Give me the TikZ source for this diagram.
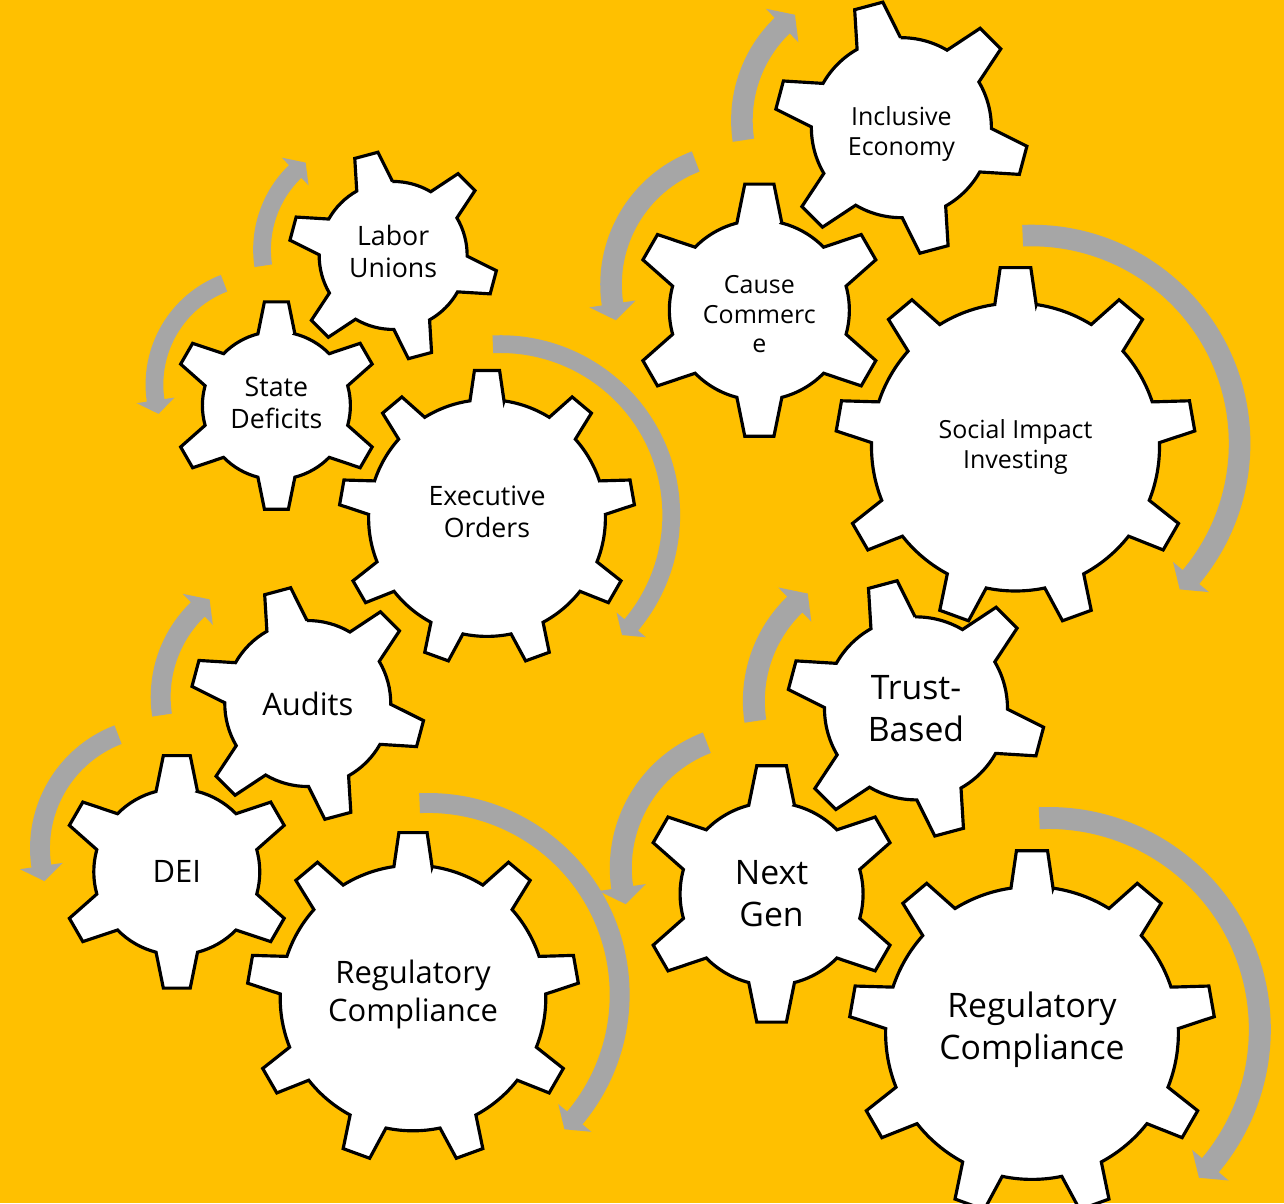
\documentclass[tikz,border=0pt]{standalone}
\usepackage{fontspec}
\setmainfont{Open Sans}
\definecolor{bgyellow}{HTML}{FFC000}
\definecolor{arrowgray}{HTML}{A6A6A6}

% gear: x, y, tip radius, body radius, teeth, first tooth angle, tip half width, base half width
\newcommand{\drawgear}[8]{%
  \pgfmathsetmacro\gstep{360/#5}%
  \pgfmathsetmacro\gtip{asin(#7/#3)}%
  \pgfmathsetmacro\gbase{asin(#8/#4)}%
  \pgfmathtruncatemacro\glast{#5-1}%
  \draw[gear] ({#1+#4*cos(#6-\gbase)},{#2+#4*sin(#6-\gbase)})
    \foreach \k [evaluate=\k as \a using #6+\k*\gstep,
                 evaluate=\k as \b using #6+\k*\gstep+\gbase,
                 evaluate=\k as \c using #6+(\k+1)*\gstep-\gbase] in {0,...,\glast} {
      -- ({#1+#3*cos(\a-\gtip)},{#2+#3*sin(\a-\gtip)})
      -- ({#1+#3*cos(\a+\gtip)},{#2+#3*sin(\a+\gtip)})
      -- ({#1+#4*cos(\b)},{#2+#4*sin(\b)})
      arc[start angle=\b, end angle=\c, radius=#4]
    } -- cycle;
}

% curved arrow: x, y, radius, start angle, end angle, turn (1 ccw, -1 cw)
\newcommand{\turnarrow}[6]{%
  \pgfmathsetmacro\rout{#3+0.06}%
  \pgfmathsetmacro\rin{#3-0.06}%
  \pgfmathsetmacro\rwo{#3+0.13}%
  \pgfmathsetmacro\rwi{#3-0.13}%
  \pgfmathsetmacro\atip{#5+#6*0.093/#3*180/pi}%
  \fill[arrowband] ({#1+\rout*cos(#4)},{#2+\rout*sin(#4)})
    arc[start angle=#4, end angle=#5, radius=\rout]
    -- ({#1+\rwo*cos(#5)},{#2+\rwo*sin(#5)})
    -- ({#1+#3*cos(\atip)},{#2+#3*sin(\atip)})
    -- ({#1+\rwi*cos(#5)},{#2+\rwi*sin(#5)})
    -- ({#1+\rin*cos(#5)},{#2+\rin*sin(#5)})
    arc[start angle=#5, end angle=#4, radius=\rin] -- cycle;
}

% one set of three gears, drawn around the big gear at (0,0)
\newcommand{\gearset}{%
  \turnarrow{0.09}{0.02}{1.155}{92.5}{-40}{-1}
  \turnarrow{-1.514}{0.902}{0.733}{111}{188.4}{1}
  \turnarrow{-0.787}{1.814}{0.733}{188.6}{134}{-1}
  \drawgear{0}{0}{1}{0.8}{9}{90}{0.085}{0.115}
  \drawgear{-1.423}{0.76}{0.705}{0.5}{6}{90}{0.081}{0.125}
  \drawgear{-0.634}{1.774}{0.705}{0.5}{6}{105}{0.081}{0.125}
}

\begin{document}
\begin{tikzpicture}[line join=miter,
    gear/.style={draw=black, fill=white, line width=0.9pt},
    arrowband/.style={fill=arrowgray},
    lbl/.style={align=center, inner sep=0pt, text=black}]
  \useasboundingbox (0,0) rectangle (12.84,-12.03);
  \fill[bgyellow] (0,0) rectangle (12.84,-12.03);
  \clip (0,0) rectangle (12.84,-12.03);

  % top left
  \begin{scope}[shift={(4.87,-5.18)}, scale=1.48, font=\fontsize{7.6}{9.1}\selectfont]
    \gearset
    \node[lbl, yshift=0.6mm] (exec) at (0,0) {Executive\\Orders};
    \node[lbl, yshift=0.3mm] (deficits) at (-1.423,0.76) {State\\Deficits};
    \node[lbl, yshift=0.4mm] (unions) at (-0.634,1.774) {Labor\\Unions};
  \end{scope}

  % top right
  \begin{scope}[shift={(10.155,-4.47)}, scale=1.8, font=\fontsize{7.1}{8.5}\selectfont]
    \gearset
    \node[lbl] (impact) at (0,0) {Social Impact\\Investing};
    \node[lbl, yshift=-0.4mm] (cause) at (-1.423,0.76) {Cause\\Commerc\\e};
    \node[lbl, yshift=-0.6mm] (inclusive) at (-0.634,1.774) {Inclusive\\Economy};
  \end{scope}

  % bottom left
  \begin{scope}[shift={(4.13,-9.98)}, scale=1.66, font=\fontsize{8.8}{10.8}\selectfont]
    \gearset
    \node[lbl, yshift=0.4mm] (complA) at (0,0) {Regulatory\\Compliance};
    \node[lbl] (dei) at (-1.423,0.76) {DEI};
    \node[lbl] (audits) at (-0.634,1.774) {Audits};
  \end{scope}

  % bottom right
  \begin{scope}[shift={(10.32,-10.33)}, scale=1.83, font=\fontsize{9.6}{11.9}\selectfont]
    \gearset
    \node[lbl, yshift=0.3mm] (complB) at (0,0) {Regulatory\\Compliance};
    \node[lbl] (nextgen) at (-1.423,0.76) {Next\\Gen};
    \node[lbl] (trust) at (-0.634,1.774) {Trust-\\Based};
  \end{scope}
\end{tikzpicture}
\end{document}
